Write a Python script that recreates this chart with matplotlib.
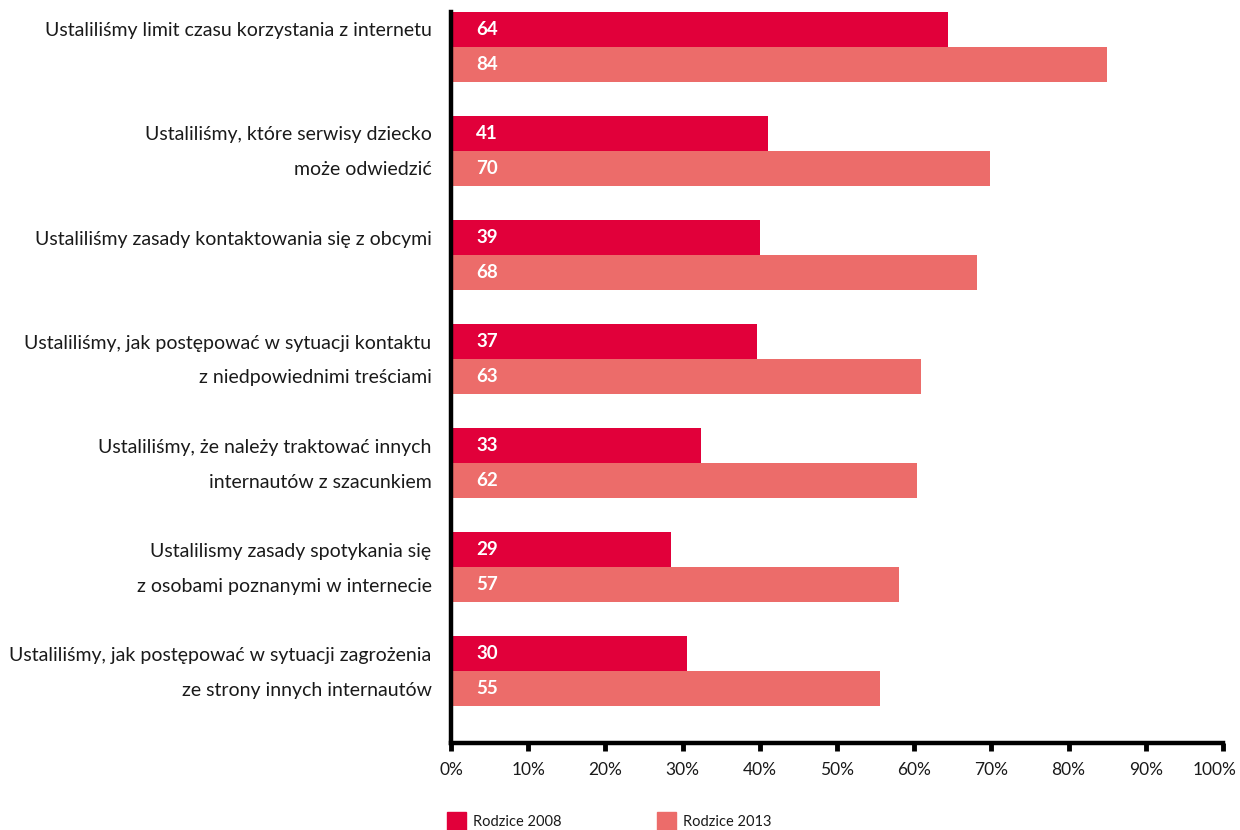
import numpy as np
import matplotlib
matplotlib.use('Agg')
import matplotlib.pyplot as plt
import matplotlib.transforms as mtransforms
from matplotlib.patches import Rectangle

plt.rcParams['font.family'] = ['Lato', 'DejaVu Sans']

# category labels, split in lines as in the original
categories = [
    ['Ustaliliśmy limit czasu korzystania z internetu', ''],
    ['Ustaliliśmy, które serwisy dziecko', 'może odwiedzić'],
    ['Ustaliliśmy zasady kontaktowania się z obcymi', ''],
    ['Ustaliliśmy, jak postępować w sytuacji kontaktu', 'z niedpowiednimi treściami'],
    ['Ustaliliśmy, że należy traktować innych', 'internautów z szacunkiem'],
    ['Ustalilismy zasady spotykania się', 'z osobami poznanymi w internecie'],
    ['Ustaliliśmy, jak postępować w sytuacji zagrożenia', 'ze strony innych internautów'],
]
# bar lengths as drawn (%)
vals_2008 = [64.4, 41.1, 40.0, 39.6, 32.4, 28.5, 30.6]
vals_2013 = [85.0, 69.8, 68.1, 60.9, 60.4, 58.0, 55.6]
# printed labels
labels_2008 = ['64', '41', '39', '37', '33', '29', '30']
labels_2013 = ['84', '70', '68', '63', '62', '57', '55']
series_names = ['Rodzice 2008', 'Rodzice 2013']

c2008 = '#E1003A'
c2013 = '#EC6C6A'

fig = plt.figure(figsize=(12.4, 8.3), dpi=100)
ax = fig.add_axes([451/1240, 1 - 743/830, (1223 - 451)/1240, (743 - 12)/830])

y = np.arange(len(categories))
h = 0.335
y1 = y - h/2
y2 = y + h/2
ax.barh(y1, vals_2008, height=h, color=c2008)
ax.barh(y2, vals_2013, height=h, color=c2013)

for yy, lab in zip(y1, labels_2008):
    ax.annotate(lab, (0, yy), xytext=(18, 0), textcoords='offset points',
                va='center', ha='left', color='white', fontsize=13.5, fontweight='bold')
for yy, lab in zip(y2, labels_2013):
    ax.annotate(lab, (0, yy), xytext=(18, 0), textcoords='offset points',
                va='center', ha='left', color='white', fontsize=13.5, fontweight='bold')

ticks = np.ravel(np.column_stack([y1, y2]))
tick_labels = [line for cat in categories for line in cat]
ax.set_yticks(ticks)
ax.set_yticklabels(tick_labels, fontsize=14, color='#1a1a1a')
ax.tick_params(axis='y', length=0, pad=14)

ax.set_xlim(0, 100)
ax.set_ylim(len(categories) - 1 + 0.69, -h)
ax.set_xticks(np.arange(0, 101, 10))
ax.set_xticklabels([f'{v}%' for v in range(0, 101, 10)], fontsize=12.5, color='#1a1a1a')
ax.tick_params(axis='x', length=6, width=3.5, direction='out', pad=8)
# keep "100%" inside the figure
last = ax.get_xticklabels()[-1]
last.set_transform(last.get_transform() + mtransforms.ScaledTranslation(-8/100, 0, fig.dpi_scale_trans))

for s in ['top', 'right']:
    ax.spines[s].set_visible(False)
ax.spines['left'].set_linewidth(3.2)
ax.spines['bottom'].set_linewidth(3.2)

# legend at the bottom
for x0, col, name in [(447, c2008, series_names[0]), (657, c2013, series_names[1])]:
    fig.patches.append(Rectangle((x0/1240, 0), 19/1240, 18/830,
                                 transform=fig.transFigure, color=col))
    fig.text((x0 + 26)/1240, 8/830, name, fontsize=10.5, va='center', ha='left', color='#1a1a1a')

fig.savefig('out.png', dpi=100)
